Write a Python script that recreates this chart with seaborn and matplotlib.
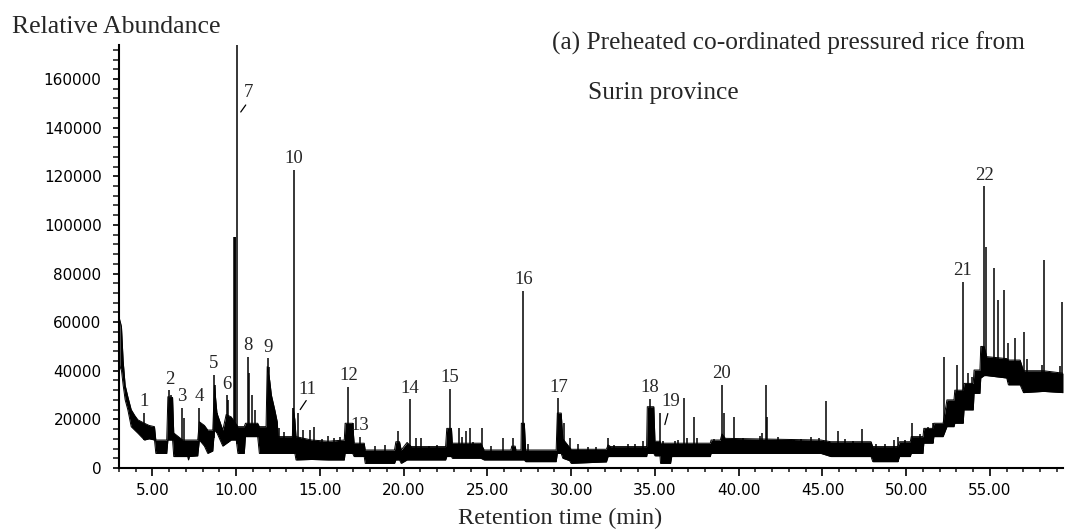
import numpy as np
import matplotlib
matplotlib.use("Agg")
import matplotlib.pyplot as plt
from matplotlib.ticker import MultipleLocator, FormatStrFormatter
from matplotlib.text import OffsetFrom
import seaborn as sns

# ---- chromatogram data (retention time in min, abundance in counts) ----
# noise band of the total ion current: time, lower edge, upper edge (x1000)
band_time = [3.05, 3.15, 3.25, 3.37, 3.53, 3.73, 3.95, 4.13, 4.52, 4.80, 5.12, 5.20,
             5.85, 5.92, 6.20, 6.27, 6.80, 7.10, 7.15, 7.20, 7.70, 7.80, 8.10, 8.30,
             8.60, 8.70, 8.85, 9.20, 9.40, 9.70, 10.00, 10.10, 10.48, 10.55, 11.28,
             11.38, 11.78, 11.85, 12.00, 12.10, 12.30, 12.45, 12.50, 13.35, 13.40,
             13.50, 13.57, 14.50, 15.50, 16.45, 16.50, 16.95, 17.04, 17.64, 17.70,
             19.45, 19.53, 19.75, 19.85, 20.20, 20.45, 22.50, 22.57, 22.85, 22.90,
             24.60, 24.80, 26.40, 26.45, 26.65, 26.70, 27.00, 27.02, 27.20, 27.28,
             29.10, 29.17, 29.40, 29.50, 29.90, 30.00, 32.10, 32.20, 32.35, 34.50,
             34.54, 34.93, 35.00, 35.30, 35.33, 35.93, 36.00, 38.30, 38.35, 38.90,
             39.00, 39.20, 44.90, 45.50, 47.90, 48.00, 49.50, 49.60, 50.24, 50.30,
             51.00, 51.05, 51.60, 51.65, 52.20, 52.43, 52.85, 52.90, 53.40, 53.45,
             54.00, 54.05, 54.40, 54.45, 54.65, 54.80, 56.00, 56.10, 56.80, 57.00,
             58.20, 59.36]
band_low = [42.0, 40.0, 34.0, 28.0, 23.9, 17.0, 15.5, 14.3, 11.5, 12.0, 11.5, 6.0,
            6.0, 11.5, 11.5, 4.7, 4.7, 4.7, 3.3, 4.7, 5.0, 11.5, 9.0, 6.0,
            7.0, 15.6, 14.4, 9.0, 10.0, 11.5, 11.5, 6.0, 6.0, 12.9, 12.9,
            6.0, 6.0, 6.0, 6.0, 6.0, 6.0, 6.0, 6.0, 6.0, 6.0,
            6.0, 3.3, 3.5, 3.3, 3.3, 6.0, 6.0, 4.7, 4.7, 1.9,
            1.9, 3.3, 3.3, 1.9, 3.3, 3.3, 3.3, 4.7, 4.7, 4.0,
            4.0, 3.3, 3.3, 3.3, 3.3, 3.3, 3.3, 3.3, 3.3, 2.6,
            2.6, 6.0, 6.0, 4.0, 3.0, 1.9, 2.5, 4.7, 4.7, 4.7,
            6.0, 6.0, 5.0, 5.0, 1.9, 1.9, 4.7, 4.7, 6.0, 6.0,
            6.0, 6.0, 6.0, 4.7, 4.7, 2.6, 2.6, 4.7, 4.7, 6.0,
            6.0, 10.2, 10.2, 12.9, 12.9, 17.0, 17.0, 18.4, 18.4, 23.9,
            23.9, 30.7, 30.7, 37.0, 38.0, 38.0, 37.0, 34.2, 34.2, 31.0,
            31.5, 31.0]
band_high = [61.0, 58.0, 44.0, 34.0, 29.3, 24.0, 21.5, 19.8, 18.4, 17.5, 17.0, 11.5,
             11.5, 29.3, 29.0, 14.4, 11.5, 11.5, 11.5, 11.5, 11.5, 19.0, 17.5, 15.6,
             15.6, 34.0, 22.6, 15.6, 22.0, 21.0, 18.0, 17.0, 17.0, 18.4, 18.4,
             17.0, 17.0, 41.7, 36.0, 30.0, 24.0, 19.0, 12.9, 12.9, 24.5,
             20.0, 12.9, 11.5, 11.0, 11.5, 18.4, 18.4, 10.2, 10.2, 7.4,
             7.4, 10.8, 10.8, 7.4, 10.5, 8.8, 8.8, 16.3, 16.3, 10.2,
             10.2, 7.4, 7.4, 9.0, 9.0, 7.4, 7.4, 18.4, 18.4, 7.4,
             7.4, 22.6, 22.6, 12.0, 8.5, 7.7, 7.7, 9.5, 8.8, 8.8,
             25.2, 25.2, 11.0, 11.0, 10.2, 10.2, 10.2, 10.2, 11.5, 11.5,
             14.0, 12.2, 11.5, 10.8, 10.8, 8.8, 8.8, 10.8, 10.8, 12.9,
             12.9, 16.3, 16.3, 18.4, 18.4, 28.0, 28.0, 32.0, 32.0, 34.8,
             34.8, 40.3, 40.3, 50.0, 50.0, 45.8, 45.0, 44.4, 44.4, 40.0,
             40.0, 39.0]

# numbered compounds: label, retention time, peak height (x1000)
peak_labels = [str(i) for i in range(1, 23)]
peak_time = [4.52, 6.01, 6.77, 7.80, 8.66, 9.43, 10.03, 10.68, 11.92, 13.43, 13.70,
             16.69, 17.40, 20.36, 22.75, 27.14, 29.23, 34.70, 35.29, 39.00, 53.36, 54.65]
peak_height = [22.8, 32.0, 24.7, 24.7, 38.3, 30.0, 174.0, 45.8, 45.2, 122.6, 22.8,
               33.5, 12.9, 28.3, 32.5, 73.0, 28.7, 28.4, 22.8, 34.2, 76.7, 115.8]

# other spikes in the trace: retention time, height (x1000)
spike_time = [6.10, 6.88, 8.72, 8.85, 9.48, 9.65, 9.85, 9.90, 9.95, 10.74, 10.95,
              11.15, 11.98, 12.58, 12.87, 13.38, 13.96, 14.42, 14.66, 15.10, 15.50,
              15.85, 16.20, 16.95, 18.30, 18.90, 19.67, 20.72, 21.06, 21.50, 22.00,
              23.27, 23.50, 23.70, 23.96, 24.16, 24.34, 24.70, 25.20, 25.90, 26.50,
              27.40, 29.57, 29.90, 30.40, 31.00, 31.50, 32.19, 32.55, 33.38, 33.78,
              34.30, 35.50, 36.20, 36.40, 36.76, 36.90, 37.32, 37.50, 37.90, 38.50,
              39.10, 39.70, 40.26, 40.80, 41.26, 41.40, 41.63, 41.70, 42.33, 43.30,
              43.70, 44.30, 44.80, 45.23, 45.90, 46.36, 46.80, 47.36, 48.20, 48.75,
              49.26, 49.50, 49.90, 50.34, 50.80, 51.30, 51.60, 52.27, 53.06, 53.70,
              53.90, 54.75, 55.23, 55.47, 55.84, 56.06, 56.50, 57.04, 57.20, 58.10,
              58.23, 59.20, 59.30]
spike_height = [30.0, 20.6, 34.2, 22.6, 28.0, 19.0, 95.0, 95.0, 95.0, 39.0, 30.0,
                23.9, 41.7, 16.6, 15.0, 24.5, 15.6, 15.6, 17.0, 12.0, 13.0,
                12.5, 12.8, 18.5, 9.0, 9.5, 15.4, 12.2, 12.2, 9.0, 9.5,
                16.6, 12.8, 15.4, 16.6, 10.5, 10.0, 16.6, 9.0, 12.2, 12.2,
                10.0, 18.5, 12.2, 9.9, 8.5, 8.5, 12.2, 9.5, 9.9, 9.9,
                11.2, 11.2, 11.0, 11.5, 28.7, 12.2, 21.1, 12.2, 10.0, 12.0,
                22.8, 21.1, 12.2, 11.0, 13.0, 14.4, 34.2, 21.0, 12.8, 11.5,
                12.0, 12.8, 12.2, 27.6, 15.2, 12.0, 11.0, 16.0, 10.0, 10.0,
                11.5, 12.8, 11.5, 18.4, 14.0, 17.0, 18.4, 45.8, 42.4, 39.0,
                37.6, 91.0, 82.2, 69.0, 73.2, 51.3, 53.4, 55.8, 45.0, 42.4,
                85.6, 42.0, 68.4]

# ---- figure ----
sns.set_style("ticks")
plt.rcParams["font.family"] = ["DejaVu Sans"]
serif = ["Liberation Serif", "DejaVu Serif"]

fig = plt.figure(figsize=(10.69, 5.30), dpi=100)
ax = fig.add_axes([0.1113, 0.117, 0.8831, 0.7981])

scale = 1000.0
bt = np.asarray(band_time)
blo = np.asarray(band_low) * scale
bhi = np.asarray(band_high) * scale

ax.fill_between(bt, blo, bhi, color="black", linewidth=0)
sns.lineplot(x=bt, y=bhi, ax=ax, color="black", linewidth=0.7, sort=False)
sns.lineplot(x=bt, y=blo, ax=ax, color="black", linewidth=0.7, sort=False)

all_t = np.concatenate([peak_time, spike_time])
all_h = np.concatenate([peak_height, spike_height]) * scale
base = np.interp(all_t, bt, blo)
ax.vlines(all_t, base, all_h, color="black", linewidth=1.1)

# peak numbers; a few sit beside their peak with a short leader (pixel offsets)
label_offset = {"7": (12, -48), "11": (9, 23), "19": (11, 11)}
leaders = {"7": ((9, -60), (4, -67)), "11": ((8, 12), (2, 3)),
           "19": ((8, -1), (5, -12))}
for lab, t, h in zip(peak_labels, peak_time, peak_height):
    dx, dy = label_offset.get(lab, (0, 11))
    ax.annotate(lab, xy=(t, h * scale), xytext=(dx, dy), textcoords="offset pixels",
                ha="center", va="center", fontsize=13.5, family=serif,
                annotation_clip=False)
    if lab in leaders:
        (x0, y0), (x1, y1) = leaders[lab]
        ref = OffsetFrom(ax.transData, (t, h * scale), unit="pixels")
        ax.annotate("", xy=(x1, y1), xycoords=ref, xytext=(x0, y0), textcoords=ref,
                    arrowprops=dict(arrowstyle="-", lw=0.9, color="black",
                                    shrinkA=0, shrinkB=0),
                    annotation_clip=False)

ax.set_xlim(3.0, 59.36)
ax.set_ylim(0, 174000)

ax.xaxis.set_major_locator(MultipleLocator(5))
ax.xaxis.set_minor_locator(MultipleLocator(1))
ax.xaxis.set_major_formatter(FormatStrFormatter("%.2f"))
ax.yaxis.set_major_locator(MultipleLocator(20000))
ax.yaxis.set_minor_locator(MultipleLocator(4000))
ax.yaxis.set_major_formatter(FormatStrFormatter("%d"))

for side in ("top", "right"):
    ax.spines[side].set_visible(False)
for side in ("left", "bottom"):
    ax.spines[side].set_linewidth(1.5)
    ax.spines[side].set_color("black")

ax.tick_params(axis="x", which="major", length=5.5, width=1.2, pad=5, labelsize=11,
               direction="out", colors="black")
ax.tick_params(axis="x", which="minor", length=3.2, width=1.2, direction="out")
ax.tick_params(axis="y", which="major", length=4.5, width=1.2, pad=8, labelsize=11,
               direction="out", colors="black")
ax.tick_params(axis="y", which="minor", length=4.0, width=1.2, direction="out")
ax.set_xlabel("")
ax.set_ylabel("")

fig.text(0.011, 0.9496, "Relative Abundance", family=serif, fontsize=18.5,
         ha="left", va="center")
fig.text(0.516, 0.919, "(a) Preheated co-ordinated pressured rice from", family=serif,
         fontsize=18.3, ha="left", va="center")
fig.text(0.550, 0.8245, "Surin province", family=serif, fontsize=18.3,
         ha="left", va="center")
fig.text(0.524, 0.0226, "Retention time (min)", family=serif, fontsize=17.5,
         ha="center", va="center")

fig.savefig("out.png", dpi=100, facecolor="white")
